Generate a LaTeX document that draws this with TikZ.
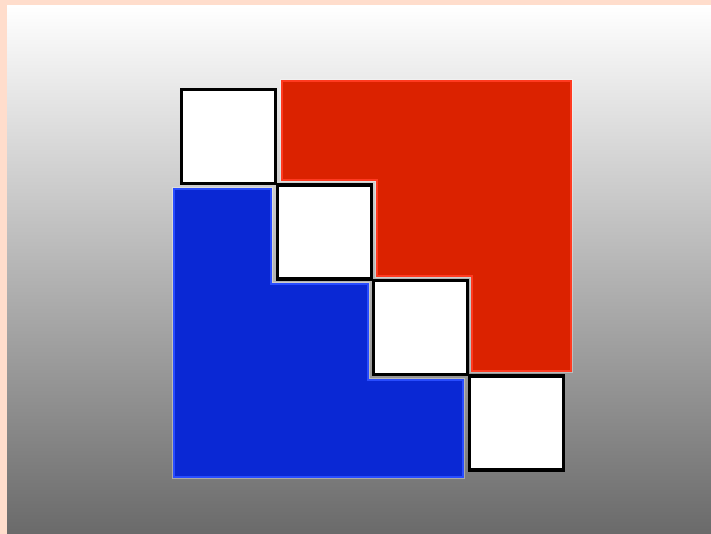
\documentclass[tikz,border=0pt]{standalone}
\definecolor{peach}{RGB}{255,221,204}
\definecolor{bgbot}{RGB}{106,106,106}
\definecolor{redfill}{RGB}{219,34,0}
\definecolor{redline}{RGB}{255,58,32}
\definecolor{bluefill}{RGB}{10,40,212}
\definecolor{blueline}{RGB}{40,76,255}
\tikzset{
  sq/.style={draw=black, fill=white, line width=3.4pt, minimum width=94pt, minimum height=94pt, inner sep=0pt, outer sep=0pt},
  halo/.style={draw=white, opacity=0.35, line width=4pt, line join=miter},
  redshape/.style={fill=redfill, draw=redline, line width=1.5pt},
  blueshape/.style={fill=bluefill, draw=blueline, line width=1.5pt}
}
\begin{document}
\begin{tikzpicture}[x=1pt,y=-1pt]
\useasboundingbox (0,0) rectangle (711,534);
\fill[peach] (0,0) rectangle (711,534);
\shade[top color=white, bottom color=bgbot] (7,6) rectangle (711,534);
% red staircase
\path[halo] (282,81) -- (571,81) -- (571,371) -- (472,371) -- (472,276) -- (377,276) -- (377,180) -- (282,180) -- cycle;
\path[redshape] (282,81) -- (571,81) -- (571,371) -- (472,371) -- (472,276) -- (377,276) -- (377,180) -- (282,180) -- cycle;
% blue staircase
\path[halo] (174,189) -- (271,189) -- (271,284) -- (368,284) -- (368,380) -- (463,380) -- (463,477) -- (174,477) -- cycle;
\path[blueshape] (174,189) -- (271,189) -- (271,284) -- (368,284) -- (368,380) -- (463,380) -- (463,477) -- (174,477) -- cycle;
% white squares
\node[sq] (s1) at (228.5,136.5) {};
\node[sq] (s2) at (324.5,232) {};
\node[sq] (s3) at (420.5,327.5) {};
\node[sq] (s4) at (516.5,423) {};
\end{tikzpicture}
\end{document}
